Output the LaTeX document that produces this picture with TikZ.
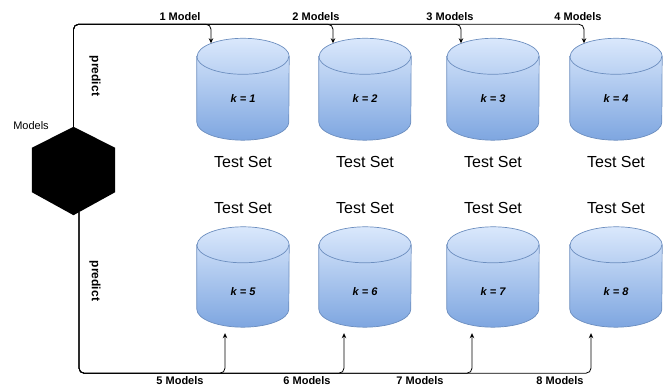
\documentclass[tikz,border=0pt]{standalone}
\usepackage{fontspec}
\setmainfont{Liberation Sans}
\usetikzlibrary{calc,arrows.meta}
\definecolor{cyltop}{HTML}{DAE8FC}
\definecolor{cylbot}{HTML}{7EA6E0}
\definecolor{cylline}{HTML}{6C8EBF}
\tikzset{
  cylbox/.style={rectangle,inner sep=0pt,minimum width=92pt},
  edge/.style={draw=black,line width=0.8pt,rounded corners=5pt,-{Stealth[length=5pt,width=4.5pt]}},
  toplbl/.style={font=\bfseries\fontsize{11}{12}\selectfont,inner sep=0pt},
  klbl/.style={font=\bfseries\itshape\fontsize{11}{12}\selectfont,inner sep=0pt},
  testlbl/.style={font=\fontsize{16}{18}\selectfont,inner sep=0pt},
  predlbl/.style={font=\bfseries\fontsize{12}{13}\selectfont,inner sep=0pt,rotate=-90},
}
\newcommand\mycyl[1]{%
  \path[draw=cylline,line width=0.7pt,top color=cyltop,bottom color=cylbot]
    ($(#1.north west)+(0,-18)$) -- ($(#1.south west)+(0,18)$)
    arc[start angle=180,end angle=360,x radius=46pt,y radius=18pt]
    -- ($(#1.north east)+(0,-18)$)
    arc[start angle=0,end angle=180,x radius=46pt,y radius=18pt] -- cycle;
  \draw[cylline,line width=0.7pt] ($(#1.north west)+(0,-18)$)
    arc[start angle=180,end angle=360,x radius=46pt,y radius=18pt];
}
\begin{document}
\begin{tikzpicture}[x=1pt,y=1pt]
\useasboundingbox (0,0) rectangle (667,387);
% hexagon
\node[rectangle,inner sep=0pt,minimum width=83pt,minimum height=88pt] (hex) at (73.5,216) {};
\fill[black] (hex.north) -- ($(hex.north east)+(0,-21)$) -- ($(hex.south east)+(0,23)$)
  -- (hex.south) -- ($(hex.south west)+(0,23)$) -- ($(hex.north west)+(0,-21)$) -- cycle;
\node[font=\fontsize{11}{12}\selectfont,inner sep=0pt] (models) at (31,261) {Models};
% cylinders top row
\foreach \n/\x in {c1/243,c2/365,c3/493,c4/616}{
  \node[cylbox,minimum height=101.5pt] (\n) at (\x,297.75) {};
}
\foreach \n/\x in {c5/243,c6/365,c7/493,c8/616}{
  \node[cylbox,minimum height=100pt] (\n) at (\x,110) {};
}
\foreach \n in {c1,c2,c3,c4,c5,c6,c7,c8}{\mycyl{\n}}
% k labels
\node[klbl] (k1) at (243,288) {k = 1};
\node[klbl] (k2) at (365,288) {k = 2};
\node[klbl] (k3) at (493,288) {k = 3};
\node[klbl] (k4) at (616,288) {k = 4};
\node[klbl] (k5) at (243,95) {k = 5};
\node[klbl] (k6) at (365,95) {k = 6};
\node[klbl] (k7) at (493,95) {k = 7};
\node[klbl] (k8) at (616,95) {k = 8};
% Test Set labels
\foreach \i/\x in {1/243,2/365,3/493,4/616}{
  \node[testlbl] (ts\i) at (\x,225) {Test Set};
}
\foreach \i/\x in {5/243,6/365,7/493,8/616}{
  \node[testlbl] (ts\i) at (\x,179) {Test Set};
}
% top edges
\foreach \n in {c4,c3,c2,c1}{
  \draw[edge] (hex.north) |- ($(\n.north)+(-32,14)$) -- ($(\n.north)+(-32,-5)$);
}
% bottom edges
\foreach \n/\d in {c8/-25,c7/-21,c6/-21,c5/-18}{
  \draw[edge] ($(hex.south)+(5.5,3)$) |- ($(\n.south)+(\d,-46)$) -- ($(\n.south)+(\d,-6)$);
}
% edge labels
\node[toplbl] (m1) at (180,370) {1 Model};
\node[toplbl] (m2) at (316,370) {2 Models};
\node[toplbl] (m3) at (450,370) {3 Models};
\node[toplbl] (m4) at (578,370) {4 Models};
\node[toplbl] (m5) at (180,6) {5 Models};
\node[toplbl] (m6) at (307,6) {6 Models};
\node[toplbl] (m7) at (420,6) {7 Models};
\node[toplbl] (m8) at (560,6) {8 Models};
\node[predlbl] (p1) at (95,311) {predict};
\node[predlbl] (p2) at (95,106) {predict};
\end{tikzpicture}
\end{document}
